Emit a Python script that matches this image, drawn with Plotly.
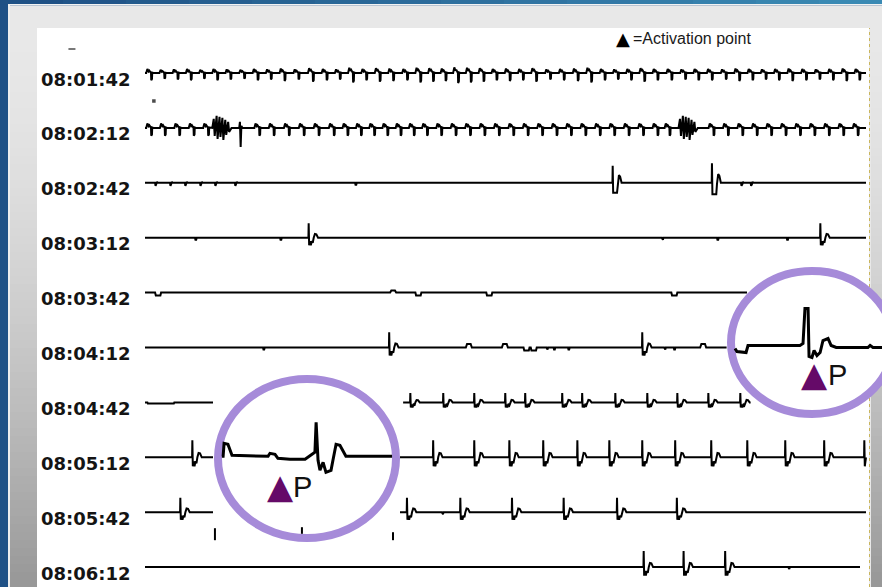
import plotly.graph_objects as go

# ---------------- data ----------------
ROW_LABELS = ["08:01:42", "08:02:12", "08:02:42", "08:03:12", "08:03:42",
              "08:04:12", "08:04:42", "08:05:12", "08:05:42", "08:06:12"]
STRIP_SECONDS = 30.0
LEGEND_MARK = "▲"
LEGEND_TEXT = "=Activation point"
POINT_MARK = "▲"
POINT_LETTER = "P"

# waveform templates: (seconds after event, mV)
FAST_BEAT = [(0, 0), (0.05, 0.2), (0.1, 0.08), (0.13, 0.12), (0.2, 0.0), (0.21, -0.36),
             (0.24, -0.3), (0.25, 0.02), (0.3, 0.0)]
NORMAL_BEAT = [(0, 0), (0.01, 0.85), (0.03, -0.45), (0.07, -0.2), (0.1, -0.45), (0.14, -0.2),
               (0.18, -0.3), (0.22, 0.0), (0.27, 0.22), (0.33, 0.2), (0.4, 0.0)]
BIG_BEAT = [(0, 0), (0.01, 0.85), (0.03, -0.5), (0.19, -0.5), (0.22, -0.05), (0.27, 0.38),
            (0.32, 0.3), (0.38, 0.0)]
TICK = [(0, 0), (0.02, -0.15), (0.06, -0.05), (0.08, 0.05), (0.1, 0)]
DIP = [(0, 0), (0.03, -0.15), (0.22, -0.15), (0.25, 0)]
SHELF = [(0, 0), (0.02, -0.06), (1.1, -0.06), (1.12, 0)]
BUMP = [(0, 0), (0.05, 0.18), (0.2, 0.18), (0.25, 0)]
DOT = [(0, 0), (0.02, -0.1), (0.05, -0.1), (0.07, 0)]
NOISE_BURST = [(0, 0), (0.06, 0.45), (0.1, -0.4), (0.18, 0.6), (0.22, -0.55), (0.3, 0.55),
               (0.34, -0.45), (0.42, 0.5), (0.46, -0.6), (0.54, 0.4), (0.58, -0.35),
               (0.66, 0.3), (0.7, -0.2), (0.8, 0)]
DEEP_SPIKE = [(0, 0), (0.03, 0.3), (0.06, -0.95), (0.09, 0.1), (0.14, 0)]

ROW1_BEATS = [0.05, 0.6, 1.15, 1.7, 2.25, 2.8, 3.35, 3.92, 4.48, 5.03, 5.6, 6.18, 6.78, 7.35,
              7.9, 8.45, 9.0, 9.56, 10.12, 10.7, 11.25, 11.78, 12.3, 12.82, 13.35, 13.88, 14.42,
              14.97, 15.52, 16.07, 16.65, 17.22, 17.8, 18.36, 18.92, 19.47, 20.02, 20.57, 21.12,
              21.7, 22.27, 22.82, 23.38, 23.96, 24.52, 25.07, 25.62, 26.17, 26.73, 27.3, 27.86,
              28.42, 28.98, 29.52]
ROW1_SCALE = [1.0, 0.8, 0.9, 1.0, 0.8, 1.0, 0.9, 0.8, 1.0, 0.9, 1.1, 0.9, 1.2, 1.0, 0.9, 1.3,
              1.0, 1.2, 1.1, 1.0, 1.3, 1.2, 1.1, 1.4, 1.3, 1.2, 1.0, 1.1, 1.0, 1.2, 0.9, 1.0,
              1.1, 1.3, 1.0, 0.9, 1.0, 1.2, 1.0, 1.0, 0.9, 1.0, 1.0, 0.9, 1.1, 1.0, 0.9, 1.0,
              1.1, 1.0, 0.9, 1.0, 1.1, 1.0]
ROW2_BEATS = [0.05, 0.62, 1.22, 1.82, 2.42, 4.55, 5.15, 5.78, 6.4, 7.02, 7.65, 8.22, 8.78, 9.33,
              9.88, 10.43, 10.98, 11.53, 12.12, 12.72, 13.32, 13.92, 14.52, 15.12, 15.72, 16.32,
              16.92, 17.52, 18.12, 18.72, 19.32, 19.92, 20.52, 21.12, 21.62, 23.45, 24.05, 24.65,
              25.25, 25.85, 26.45, 27.05, 27.65, 28.25, 28.85, 29.45]
ROW2_NOISE = [2.8, 22.2]
ROW2_DEEP = [3.92]
ROW3_TICKS = [0.42, 1.04, 1.66, 2.29, 2.91, 3.74, 24.8, 25.2]
ROW3_DOTS = [8.74]
ROW3_BIG = [19.45, 23.58]
ROW4_DOTS = [2.08, 5.62]
ROW4_DIPS = [21.5, 23.8, 26.7]
ROW4_BEATS = [6.8, 28.09]
ROW5_DIPS = [0.42, 11.25, 14.2, 21.9]
ROW5_BUMPS = [10.2]
ROW6_DOTS = [4.91, 16.7, 17.0, 17.6, 21.6, 22.0]
ROW6_BUMPS = [13.35, 14.85, 23.1]
ROW6_DIPS = [15.75, 16.05]
ROW6_BEATS = [10.15, 20.68]
ROW7_BEATS = [11.03, 12.4, 13.69, 14.98, 15.81, 17.35, 18.18, 19.56, 20.89, 22.14, 23.43, 24.76]
ROW7_SHELF = [0.1]
ROW8_BEATS = [1.96, 11.98, 13.69, 15.15, 16.56, 17.98, 19.31, 20.68, 22.05, 23.55, 25.05, 26.63,
              28.25, 29.92]
ROW9_BEATS = [1.46, 10.89, 13.11, 15.26, 17.41, 19.63, 22.12]
ROW9_DOTS = [12.35]
ROW10_BEATS = [20.74, 22.4, 24.13]
ROW10_DOTS = [26.76]

# visible pieces of each strip (seconds)
ROW_SEGMENTS = [
    [(0.0, 30.0)], [(0.0, 30.0)], [(0.0, 30.0)], [(0.0, 30.0)], [(0.0, 25.05)],
    [(0.0, 24.2)], [(0.0, 2.83), (10.74, 25.2)], [(0.0, 2.83), (10.61, 30.0)],
    [(0.0, 2.83), (10.61, 30.0)], [(0.0, 29.75)],
]

# magnified excerpts shown in the circles (seconds, mV)
ZOOM_A_T = [3.2, 3.25, 3.29, 3.45, 3.62, 5.12, 5.2, 5.41, 5.53, 6.03, 6.66, 6.91, 7.07, 7.12,
            7.2, 7.28, 7.41, 7.53, 7.74, 7.82, 7.95, 8.11, 8.36, 10.28]
ZOOM_A_MV = [0.05, 0.05, 0.7, 0.65, 0.1, 0.05, 0.2, 0.15, -0.05, -0.1, -0.1, 0.1, 0.25, 1.75,
             -0.15, -0.65, -0.25, -0.75, -0.65, -0.15, 0.65, 0.6, 0.05, 0.05]
ZOOM_B_T = [24.55, 24.63, 25.01, 25.09, 27.25, 27.38, 27.46, 27.59, 27.63, 27.75, 27.84, 27.96,
            28.09, 28.21, 28.42, 28.55, 28.76, 30.08, 30.17, 30.29, 30.67]
ZOOM_B_MV = [-0.05, -0.2, -0.25, 0.1, 0.1, 0.2, 1.95, 1.95, -0.45, -0.5, -0.15, -0.4, -0.25,
             0.35, 0.45, 0.1, 0.0, 0.0, 0.1, 0.0, 0.0]
ZOOM_A_ROW, ZOOM_B_ROW = 7, 5

MARK_T = [2.91, 6.53, 10.32]
MARK_TOP = [-0.8, -0.75, -1.0]
MARK_BOT = [-1.4, -1.08, -1.4]
MARK_ROW = 8

ARTIFACT_T = [-3.04, 0.37]
ARTIFACT_MV = [1.2, -1.4]

# ---------------- layout constants ----------------
W, H = 882, 587
X0_PX, X1_PX = 145, 866
PX_PER_S = (X1_PX - X0_PX) / STRIP_SECONDS
PX_PER_MV = 20.0
ROW0_PX, ROW_STEP_PX = 73.0, 54.9
ROW_STEP_MV = ROW_STEP_PX / PX_PER_MV


def row_events(i):
    ev = []

    def add(times, tpl, s=1.0):
        for t in times:
            ev.append((t, tpl, s))

    if i == 0:
        for t, s in zip(ROW1_BEATS, ROW1_SCALE):
            ev.append((t, FAST_BEAT, s))
    elif i == 1:
        add(ROW2_BEATS, FAST_BEAT, 1.1)
        add(ROW2_NOISE, NOISE_BURST, 1.0)
        add(ROW2_DEEP, DEEP_SPIKE, 1.0)
    elif i == 2:
        add(ROW3_TICKS, TICK)
        add(ROW3_DOTS, DOT)
        add(ROW3_BIG[:1], BIG_BEAT, 1.0)
        add(ROW3_BIG[1:], BIG_BEAT, 1.15)
    elif i == 3:
        add(ROW4_DOTS, DOT)
        add(ROW4_DIPS, DOT)
        add(ROW4_BEATS, NORMAL_BEAT, 0.85)
    elif i == 4:
        add(ROW5_DIPS, DIP)
        add(ROW5_BUMPS, BUMP, 0.6)
    elif i == 5:
        add(ROW6_DOTS, DOT)
        add(ROW6_BUMPS, BUMP)
        add(ROW6_DIPS, DIP)
        add(ROW6_BEATS, NORMAL_BEAT, 0.9)
    elif i == 6:
        add(ROW7_BEATS, NORMAL_BEAT, 0.55)
        add(ROW7_SHELF, SHELF)
    elif i == 7:
        add(ROW8_BEATS, NORMAL_BEAT, 1.0)
    elif i == 8:
        add(ROW9_BEATS, NORMAL_BEAT, 0.85)
        add(ROW9_DOTS, DOT)
    elif i == 9:
        add(ROW10_BEATS, NORMAL_BEAT, 0.95)
        add(ROW10_DOTS, DOT)
    return sorted(ev, key=lambda e: e[0])


def build_row(i):
    xs, ys = [], []
    off = -ROW_STEP_MV * i
    events = row_events(i)
    for (a, b) in ROW_SEGMENTS[i]:
        pts = [(a, 0.0)]
        for t0, tpl, s in events:
            if a <= t0 < b:
                for dt, v in tpl:
                    if t0 + dt <= b:
                        pts.append((t0 + dt, v * s))
        pts.append((b, 0.0))
        for t, v in pts:
            xs.append(t)
            ys.append(v + off)
        xs.append(None)
        ys.append(None)
    return xs, ys


fig = go.Figure()

for i in range(len(ROW_LABELS)):
    xs, ys = build_row(i)
    fig.add_trace(go.Scatter(x=xs, y=ys, mode="lines", line=dict(color="black", width=2),
                             hoverinfo="skip", showlegend=False))

# magnified excerpts
fig.add_trace(go.Scatter(x=ZOOM_A_T, y=[v - ROW_STEP_MV * ZOOM_A_ROW for v in ZOOM_A_MV],
                         mode="lines", line=dict(color="black", width=3),
                         hoverinfo="skip", showlegend=False))
fig.add_trace(go.Scatter(x=ZOOM_B_T, y=[v - ROW_STEP_MV * ZOOM_B_ROW for v in ZOOM_B_MV],
                         mode="lines", line=dict(color="black", width=3),
                         hoverinfo="skip", showlegend=False))

# cut marks
mx, my = [], []
for t, a, b in zip(MARK_T, MARK_TOP, MARK_BOT):
    mx += [t, t, None]
    my += [a - ROW_STEP_MV * MARK_ROW, b - ROW_STEP_MV * MARK_ROW, None]
fig.add_trace(go.Scatter(x=mx, y=my, mode="lines", line=dict(color="black", width=2),
                         hoverinfo="skip", showlegend=False))

# stray artifacts
fig.add_trace(go.Scatter(x=ARTIFACT_T, y=ARTIFACT_MV, mode="markers",
                         marker=dict(symbol=["line-ew", "square"], size=[5, 2], color="black",
                                     line=dict(color="black", width=1.5)),
                         hoverinfo="skip", showlegend=False))


# ---------------- frame ----------------
def px_rect(x0, y0, x1, y1, color, layer="below"):
    return dict(type="rect", xref="paper", yref="paper", x0=x0 / W, x1=x1 / W,
                y0=1 - y1 / H, y1=1 - y0 / H, fillcolor=color, line=dict(width=0), layer=layer)


shapes = []
nb = 14
for k in range(nb):
    f = k / (nb - 1)
    r = round(31 + f * (58 - 31)); g = round(81 + f * (138 - 81)); b = round(133 + f * (180 - 133))
    shapes.append(px_rect(k * W / nb, 0, (k + 1) * W / nb + 1, 4.5, f"rgb({r},{g},{b})"))
shapes.append(px_rect(8, 4, W, 5.5, "#f2f2f2"))
shapes.append(px_rect(8, 4, 10, H, "#eeeeee"))
shapes.append(px_rect(10, 5.5, W, H, "#e8e8e8"))
step = 8
y = 28
while y < H:
    f = max(0.0, (y - 28) / (H - 28)) ** 1.6
    c = round(232 - f * (232 - 150))
    col = f"rgb({c},{c},{c})"
    shapes.append(px_rect(10, y, 37, y + step + 0.5, col))
    shapes.append(px_rect(871, y, W, y + step + 0.5, col))
    y += step
shapes.append(px_rect(37, 28, 869, H, "white"))
shapes.append(dict(type="line", xref="paper", yref="paper", x0=869.5 / W, x1=869.5 / W,
                   y0=0, y1=1 - 28 / H, line=dict(color="#c9b55c", width=1, dash="dot"),
                   layer="below"))
LAV = "#a68bd9"
shapes.append(dict(type="circle", xref="paper", yref="paper", x0=218 / W, x1=396 / W,
                   y0=1 - 538 / H, y1=1 - 379 / H, fillcolor="white",
                   line=dict(color=LAV, width=8), layer="below"))
shapes.append(dict(type="circle", xref="paper", yref="paper", x0=731 / W, x1=893 / W,
                   y0=1 - 414 / H, y1=1 - 271 / H, fillcolor="white",
                   line=dict(color=LAV, width=8), layer="below"))

annotations = []
for i, lab in enumerate(ROW_LABELS):
    annotations.append(dict(text=lab, xref="paper", x=133 / W, xanchor="right",
                            yref="y", y=-ROW_STEP_MV * i - 0.3, yanchor="middle",
                            showarrow=False,
                            font=dict(family="DejaVu Sans", size=18, color="#141414",
                                      weight="bold")))
annotations.append(dict(text=LEGEND_MARK, xref="paper", x=632 / W, xanchor="right",
                        yref="paper", y=1 - 38 / H, yanchor="middle", showarrow=False,
                        font=dict(family="DejaVu Sans", size=18, color="#000000")))
annotations.append(dict(text=LEGEND_TEXT, xref="paper", x=631 / W, xanchor="left",
                        yref="paper", y=1 - 39 / H, yanchor="middle", showarrow=False,
                        font=dict(family="Liberation Sans", size=16, color="#1a1a1a")))
for tri_x, let_x, cy in [(280, 302, 487), (814, 837, 375)]:
    annotations.append(dict(text=POINT_MARK, xref="paper", x=tri_x / W, xanchor="center",
                            yref="paper", y=1 - (cy - 1) / H, yanchor="middle",
                            showarrow=False,
                            font=dict(family="DejaVu Sans", size=34, color="#650a68")))
    annotations.append(dict(text=POINT_LETTER, xref="paper", x=let_x / W, xanchor="center",
                            yref="paper", y=1 - cy / H, yanchor="middle", showarrow=False,
                            font=dict(family="Liberation Sans", size=29, color="#111111")))

fig.update_layout(
    width=W, height=H, margin=dict(l=0, r=0, t=0, b=0),
    paper_bgcolor="#1f5186", plot_bgcolor="rgba(0,0,0,0)",
    shapes=shapes, annotations=annotations,
    xaxis=dict(range=[-X0_PX / PX_PER_S, (W - X0_PX) / PX_PER_S], visible=False,
               domain=[0, 1], fixedrange=True),
    yaxis=dict(range=[-(H - ROW0_PX) / PX_PER_MV, ROW0_PX / PX_PER_MV], visible=False,
               domain=[0, 1], fixedrange=True),
)

fig.write_html("out.html")
